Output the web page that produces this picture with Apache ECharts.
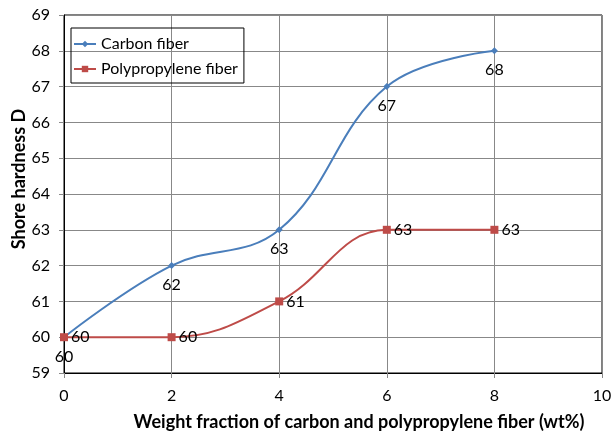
<!DOCTYPE html>
<html>
<head>
<meta charset="utf-8">
<script src="https://cdn.jsdelivr.net/npm/echarts@6/dist/echarts.min.js"></script>
<style>
  html, body { margin: 0; padding: 0; background: #fff; }
  #chart { width: 612px; height: 434px; }
</style>
</head>
<body>
<div id="chart"></div>
<script>
// data
var fraction = [0, 2, 4, 6, 8];
var carbon = [60, 62, 63, 67, 68];
var polypropylene = [60, 60, 61, 63, 63];

var font = 'Lato';

function pairs(xs, ys) {
  return xs.map(function (x, i) { return [x, ys[i]]; });
}

var myChart = echarts.init(document.getElementById('chart'));
var option = {
  animation: false,
  textStyle: { fontFamily: font },
  grid: {
    left: 64, right: 10, top: 15, bottom: 61,
    containLabel: false, outerBoundsMode: 'none',
    show: true, borderColor: '#000', borderWidth: 1
  },
  legend: {
    left: 71, top: 28, orient: 'vertical',
    itemWidth: 22, itemHeight: 8, itemGap: 9,
    padding: [8, 6, 6, 2],
    borderColor: '#000', borderWidth: 1,
    textStyle: { fontSize: 16, color: '#000', fontFamily: font },
    data: ['Carbon fiber', 'Polypropylene fiber']
  },
  xAxis: {
    type: 'value', min: 0, max: 10, interval: 2,
    name: 'Weight fraction of carbon and polypropylene fiber (wt%)',
    nameLocation: 'middle', nameGap: 40,
    nameTextStyle: { fontSize: 18, fontWeight: 'bold', color: '#000', padding: [0, 0, 0, 52] },
    axisLine: { lineStyle: { color: '#000' } },
    axisTick: { show: true, length: 5, lineStyle: { color: '#888' } },
    axisLabel: { fontSize: 16, color: '#000', margin: 15 },
    splitLine: { lineStyle: { color: '#888' } }
  },
  yAxis: {
    type: 'value', min: 59, max: 69, interval: 1,
    name: 'Shore hardness D',
    nameLocation: 'middle', nameGap: 36, nameMoveOverlap: false,
    nameTextStyle: { fontSize: 18, fontWeight: 'bold', color: '#000', padding: [0, 0, 0, 30] },
    axisLine: { show: true, lineStyle: { color: '#000' } },
    axisTick: { show: true, length: 5, lineStyle: { color: '#888' } },
    axisLabel: { fontSize: 16, color: '#000', margin: 14 },
    splitLine: { lineStyle: { color: '#888' } }
  },
  series: [
    {
      name: 'Carbon fiber', type: 'line', smooth: 0.4,
      data: pairs(fraction, carbon),
      symbol: 'diamond', symbolSize: 7,
      lineStyle: { color: '#4A7EBB', width: 2 },
      itemStyle: { color: '#4A7EBB' },
      label: { show: true, position: 'bottom', distance: 8, fontSize: 16, color: '#000', fontFamily: font }
    },
    {
      name: 'Polypropylene fiber', type: 'line', smooth: 0.4,
      data: pairs(fraction, polypropylene),
      symbol: 'rect', symbolSize: 8,
      lineStyle: { color: '#BE4B48', width: 2 },
      itemStyle: { color: '#BE4B48' },
      label: { show: true, position: 'right', distance: 3, fontSize: 16, color: '#000', fontFamily: font }
    }
  ]
};
myChart.setOption(option);
</script>
</body>
</html>
